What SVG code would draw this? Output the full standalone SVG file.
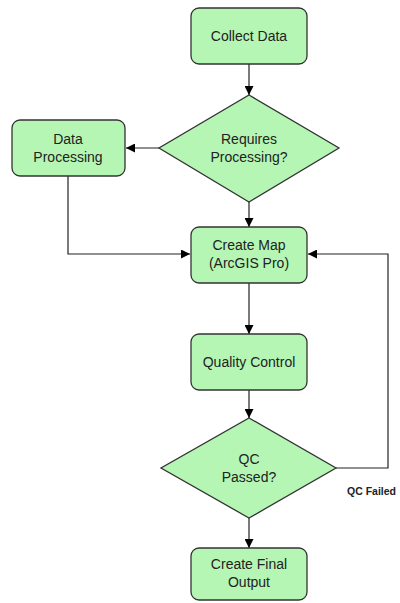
<svg xmlns="http://www.w3.org/2000/svg" width="400" height="603" viewBox="0 0 400 603">
<defs>
<marker id="ah" viewBox="0 0 10 10" refX="10" refY="5" markerWidth="9" markerHeight="9" markerUnits="userSpaceOnUse" orient="auto">
<path d="M0,0 L10,5 L0,10 z" fill="#000"/>
</marker>
</defs>
<style>
.n{fill:#b5f6b5;stroke:#333;stroke-width:1.3}
.t{font-family:"Liberation Sans",Arial,sans-serif;font-size:14px;fill:#222;text-anchor:middle}
.c{fill:none;stroke:#222;stroke-width:1.2;marker-end:url(#ah)}
.lbl{font-family:"Liberation Sans",Arial,sans-serif;font-size:10.5px;font-weight:bold;fill:#222}
</style>
<rect width="400" height="603" fill="#fff"/>
<g id="connectors">
<path class="c" d="M249,64 V95"/>
<path class="c" d="M159,148 H126"/>
<path class="c" d="M249,202 V227"/>
<path class="c" d="M68,176 V254 H190"/>
<path class="c" d="M249,283 V334"/>
<path class="c" d="M249,390 V418"/>
<path class="c" d="M336,468 H388 V254 H308"/>
<path class="c" d="M249,518 V548"/>
<text class="lbl" x="347" y="495">QC Failed</text>
</g>
<g id="collect">
<rect class="n" x="191" y="8" width="116" height="56" rx="8"/>
<text class="t" x="249" y="41">Collect Data</text>
</g>
<g id="requires">
<polygon class="n" points="249,95 339,148 249,202 159,148"/>
<text class="t" x="249" y="144">Requires</text>
<text class="t" x="249" y="162">Processing?</text>
</g>
<g id="dataproc">
<rect class="n" x="12" y="120" width="113" height="56" rx="8"/>
<text class="t" x="68" y="144">Data</text>
<text class="t" x="68" y="162">Processing</text>
</g>
<g id="createmap">
<rect class="n" x="191" y="227" width="116" height="56" rx="8"/>
<text class="t" x="249" y="250">Create Map</text>
<text class="t" x="249" y="268">(ArcGIS Pro)</text>
</g>
<g id="qc">
<rect class="n" x="191" y="334" width="116" height="56" rx="8"/>
<text class="t" x="249" y="367">Quality Control</text>
</g>
<g id="qcpassed">
<polygon class="n" points="249,418 336,468 249,518 161,468"/>
<text class="t" x="249" y="464">QC</text>
<text class="t" x="249" y="482">Passed?</text>
</g>
<g id="final">
<rect class="n" x="191" y="548" width="116" height="52" rx="8"/>
<text class="t" x="249" y="569">Create Final</text>
<text class="t" x="249" y="587">Output</text>
</g>
</svg>
